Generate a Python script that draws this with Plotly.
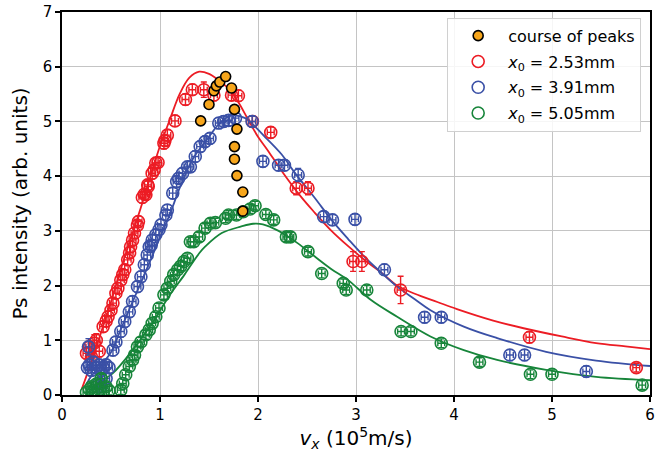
import plotly.graph_objects as go

# ---------------- data ----------------
peaks_x = [1.415, 1.50, 1.55, 1.575, 1.61, 1.67, 1.73, 1.76, 1.785, 1.76, 1.76, 1.785, 1.845, 1.845]
peaks_y = [5.01, 5.31, 5.56, 5.65, 5.72, 5.82, 5.61, 5.22, 4.86, 4.54, 4.31, 4.01, 3.71, 3.36]

red_x = [0.25, 0.28, 0.30, 0.33, 0.35, 0.38, 0.42, 0.45, 0.47, 0.50, 0.52, 0.55, 0.57, 0.60, 0.62,
         0.64, 0.67, 0.69, 0.70, 0.72, 0.74, 0.77, 0.78, 0.82, 0.84, 0.856, 0.875, 0.88, 0.92, 0.94,
         0.957, 0.98, 1.04, 1.05, 1.075, 1.153, 1.26, 1.33, 1.447, 1.55, 1.73, 1.80, 1.943, 2.13,
         2.39, 2.51, 2.97, 3.06, 3.455, 4.77, 5.86]
red_y = [0.76, 0.88, 0.70, 0.95, 1.00, 0.80, 1.25, 1.35, 1.43, 1.55, 1.68, 1.86, 1.95, 2.10, 2.20,
         2.29, 2.47, 2.60, 2.71, 2.83, 2.96, 3.10, 3.17, 3.61, 3.67, 3.66, 3.84, 3.81, 4.05, 4.11,
         4.24, 4.25, 4.60, 4.65, 4.75, 5.01, 5.40, 5.58, 5.58, 5.48, 5.48, 5.47, 5.00, 4.80,
         3.78, 3.78, 2.44, 2.44, 1.92, 1.055, 0.50]
red_yerr = [0.10, 0.15, 0.10, 0.15, 0.12, 0.10, 0.10, 0.10, 0.10, 0.10, 0.10, 0.10, 0.10, 0.10, 0.10,
            0.10, 0.10, 0.10, 0.10, 0.10, 0.10, 0.10, 0.10, 0.10, 0.10, 0.10, 0.10, 0.10, 0.10, 0.10,
            0.10, 0.10, 0.10, 0.10, 0.10, 0.10, 0.10, 0.10, 0.14, 0.10, 0.10, 0.10, 0.10, 0.10,
            0.12, 0.12, 0.18, 0.18, 0.25, 0.10, 0.08]

blue_x = [0.26, 0.27, 0.28, 0.30, 0.32, 0.35, 0.38, 0.40, 0.42, 0.45, 0.48, 0.38, 0.45, 0.40,
          0.52, 0.55, 0.60, 0.64, 0.687, 0.72, 0.77, 0.805, 0.84, 0.87, 0.89, 0.91, 0.92, 0.957,
          0.99, 1.01, 1.06, 1.075, 1.13, 1.17, 1.19, 1.23, 1.28, 1.31, 1.36, 1.41, 1.46, 1.51,
          1.60, 1.65, 1.70, 1.77, 1.94, 2.05, 2.21, 2.27, 2.41, 2.67, 2.76, 2.99, 3.29, 3.70,
          3.87, 4.57, 4.72, 5.35]
blue_y = [0.50, 0.88, 0.55, 0.45, 0.60, 0.50, 0.55, 0.45, 0.50, 0.55, 0.50, 0.22, 0.30, 0.15,
          0.82, 0.97, 1.16, 1.34, 1.52, 1.71, 1.98, 2.16, 2.38, 2.56, 2.71, 2.74, 2.83, 2.93,
          3.02, 3.11, 3.29, 3.38, 3.69, 3.90, 3.96, 4.05, 4.17, 4.17, 4.36, 4.54, 4.63, 4.69,
          4.97, 5.00, 5.02, 5.06, 5.00, 4.27, 4.20, 4.20, 4.02, 3.26, 3.20, 3.21, 2.29, 1.42,
          1.42, 0.73, 0.73, 0.43]
blue_yerr = [0.10, 0.15, 0.10, 0.10, 0.10, 0.10, 0.10, 0.10, 0.10, 0.10, 0.10, 0.10, 0.10, 0.10,
             0.10, 0.10, 0.10, 0.10, 0.10, 0.10, 0.10, 0.10, 0.10, 0.10, 0.10, 0.10, 0.10, 0.10,
             0.10, 0.10, 0.10, 0.10, 0.10, 0.10, 0.10, 0.10, 0.10, 0.10, 0.10, 0.10, 0.10, 0.10,
             0.10, 0.10, 0.10, 0.10, 0.10, 0.10, 0.10, 0.10, 0.12, 0.10, 0.10, 0.10, 0.10, 0.10,
             0.10, 0.10, 0.10, 0.10]

green_x = [0.25, 0.28, 0.30, 0.32, 0.35, 0.38, 0.40, 0.42, 0.45, 0.48, 0.60, 0.62, 0.65, 0.687,
           0.72, 0.74, 0.77, 0.805, 0.856, 0.89, 0.92, 0.957, 0.99, 1.04, 1.075, 1.11, 1.14, 1.18,
           1.21, 1.245, 1.28, 1.31, 1.345, 1.40, 1.46, 1.515, 1.565, 1.67, 1.70, 1.78, 1.85, 1.92,
           1.97, 2.08, 2.16, 2.29, 2.33, 2.51, 2.65, 2.87, 2.90, 3.11, 3.46, 3.56, 3.87, 4.26,
           4.78, 5.00, 5.92]
green_y = [0.05, 0.10, 0.15, 0.05, 0.20, 0.10, 0.30, 0.05, 0.15, 0.08, 0.09, 0.21, 0.37, 0.52,
           0.64, 0.73, 0.88, 0.97, 1.10, 1.19, 1.31, 1.43, 1.59, 1.83, 1.95, 2.08, 2.20, 2.29,
           2.35, 2.44, 2.50, 2.80, 2.80, 2.89, 3.05, 3.14, 3.15, 3.23, 3.29, 3.29, 3.35, 3.40,
           3.46, 3.30, 3.20, 2.89, 2.89, 2.62, 2.22, 2.04, 1.92, 1.92, 1.16, 1.16, 0.945, 0.60,
           0.38, 0.38, 0.18]
green_yerr = [0.08] * len(green_x)

xerr_common = 0.035

# fitted curves
red_fit_x = [0.2, 0.25, 0.3, 0.4, 0.5, 0.6, 0.7, 0.8, 0.9, 1.0, 1.1, 1.2, 1.3, 1.4, 1.5, 1.6, 1.7,
             1.8, 1.9, 2.0, 2.1, 2.24, 2.44, 2.58, 2.75, 2.92, 3.1, 3.25, 3.42, 3.6, 3.83, 4.03,
             4.4, 4.71, 5.1, 5.45, 5.75, 6.0]
red_fit_y = [0.1, 0.35, 0.6, 1.15, 1.7, 2.3, 2.85, 3.4, 3.98, 4.55, 5.03, 5.5, 5.8, 5.91, 5.87,
             5.75, 5.6, 5.35, 5.03, 4.72, 4.47, 4.1, 3.62, 3.33, 3.0, 2.72, 2.45, 2.25, 2.0, 1.85,
             1.7, 1.57, 1.36, 1.22, 1.07, 0.95, 0.89, 0.84]

blue_fit_x = [0.25, 0.3, 0.4, 0.5, 0.6, 0.7, 0.8, 0.9, 1.0, 1.1, 1.2, 1.33, 1.5, 1.6, 1.7, 1.75,
              1.87, 2.07, 2.24, 2.38, 2.58, 2.75, 2.92, 3.1, 3.25, 3.42, 3.6, 3.76, 4.1, 4.44,
              4.94, 5.45, 6.0]
blue_fit_y = [0.2, 0.35, 0.55, 0.78, 1.2, 1.62, 2.03, 2.45, 2.88, 3.3, 3.78, 4.3, 4.72, 4.95,
              5.09, 5.11, 5.06, 4.72, 4.4, 4.05, 3.6, 3.2, 2.85, 2.5, 2.25, 1.98, 1.75, 1.55,
              1.25, 1.04, 0.79, 0.63, 0.53]

green_fit_x = [0.3, 0.4, 0.52, 0.72, 0.92, 1.09, 1.25, 1.4, 1.46, 1.63, 1.83, 1.95, 2.05, 2.21,
               2.4, 2.58, 2.75, 2.92, 3.15, 3.42, 3.76, 4.1, 4.44, 4.94, 5.45, 6.0]
green_fit_y = [0.1, 0.25, 0.4, 0.82, 1.31, 1.8, 2.2, 2.59, 2.71, 2.96, 3.08, 3.13, 3.12, 3.0,
               2.78, 2.53, 2.3, 2.1, 1.74, 1.43, 1.07, 0.82, 0.64, 0.46, 0.33, 0.27]

RED = "#ec1c24"
BLUE = "#3a50a6"
GREEN = "#17853a"
ORANGE = "#f7a61c"

fig = go.Figure()

for fx, fy, col in [(red_fit_x, red_fit_y, RED), (blue_fit_x, blue_fit_y, BLUE),
                    (green_fit_x, green_fit_y, GREEN)]:
    fig.add_trace(go.Scatter(x=fx, y=fy, mode="lines", line=dict(color=col, width=1.8, shape="spline"),
                             showlegend=False, hoverinfo="skip"))

series = [
    (red_x, red_y, red_yerr, RED, "<i>x</i><sub>0</sub> = 2.53mm"),
    (blue_x, blue_y, blue_yerr, BLUE, "<i>x</i><sub>0</sub> = 3.91mm"),
    (green_x, green_y, green_yerr, GREEN, "<i>x</i><sub>0</sub> = 5.05mm"),
]
for i, (sx, sy, se, col, name) in enumerate(series):
    fig.add_trace(go.Scatter(
        x=sx, y=sy, mode="markers", name=name, legendrank=10 + i, legendgroup="g%d" % i,
        marker=dict(symbol="circle-open", size=12, color=col, line=dict(width=1.6, color=col)),
        error_y=dict(type="data", array=se, color=col, thickness=1.4, width=3),
        error_x=dict(type="data", array=[xerr_common] * len(sx), color=col, thickness=1.4, width=3),
    ))

fig.add_trace(go.Scatter(
    x=peaks_x, y=peaks_y, mode="markers", name="course of peaks", legendrank=1, legendgroup="peaks",
    marker=dict(symbol="circle", size=10, color=ORANGE, line=dict(width=1.6, color="black")),
))

axis_common = dict(showline=True, mirror=True, linecolor="black", linewidth=1.5,
                   ticks="outside", ticklen=5, tickwidth=1.5, tickcolor="black",
                   showgrid=True, gridcolor="#c4c4c4", gridwidth=1, zeroline=False,
                   tickfont=dict(size=15, color="black"), ticklabeloverflow="allow")

fig.update_layout(
    width=657, height=463,
    margin=dict(l=62, r=2, t=12, b=68),
    paper_bgcolor="white", plot_bgcolor="white",
    font=dict(family="DejaVu Sans", color="black"),
    xaxis=dict(range=[0, 6], dtick=1,
               title=dict(text="<i>v<sub>x</sub></i> (10<sup>5</sup>m/s)", font=dict(size=20), standoff=8),
               **axis_common),
    yaxis=dict(range=[0, 7], dtick=1,
               title=dict(text="Ps intensity (arb. units)", font=dict(size=20), standoff=10),
               **axis_common),
    legend=dict(x=0.985, y=0.985, xanchor="right", yanchor="top",
                bgcolor="rgba(255,255,255,0.85)", bordercolor="#d0d0d0", borderwidth=1,
                font=dict(size=16), itemwidth=50, tracegroupgap=2,
                traceorder="grouped"),
)

fig.write_html("out.html")
